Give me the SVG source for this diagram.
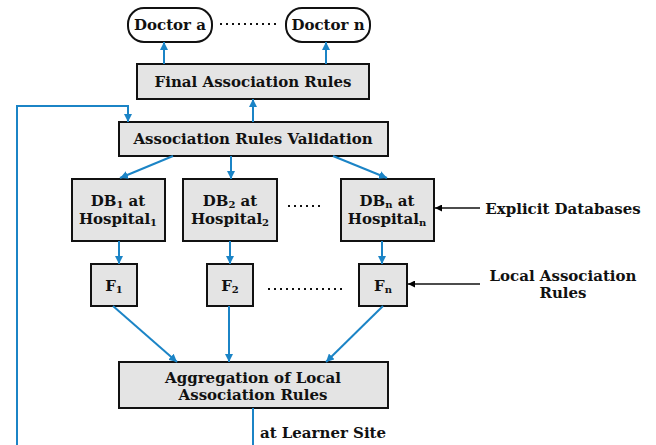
<svg xmlns="http://www.w3.org/2000/svg" width="656" height="445" viewBox="0 0 656 445">
<defs>
<marker id="ab" viewBox="0 0 10 10" refX="10" refY="5" markerWidth="8" markerHeight="8" markerUnits="userSpaceOnUse" orient="auto">
<path d="M0,0 L10,5 L0,10 z" fill="#1b84c6"/>
</marker>
<marker id="ak" viewBox="0 0 10 10" refX="10" refY="5" markerWidth="8" markerHeight="7" markerUnits="userSpaceOnUse" orient="auto">
<path d="M0,0 L10,5 L0,10 z" fill="#000"/>
</marker>
</defs>
<style>
.box{fill:#e4e4e4;stroke:#111;stroke-width:2}
.pill{fill:#fff;stroke:#111;stroke-width:2}
.t{font-family:"DejaVu Serif","Liberation Serif",serif;font-weight:bold;font-size:15px;fill:#111;text-anchor:middle}
.s{font-size:10px}
.c{fill:none;stroke:#1b84c6;stroke-width:2;marker-end:url(#ab)}
.k{fill:none;stroke:#111;stroke-width:1.5;marker-end:url(#ak)}
.dots{fill:none;stroke:#111;stroke-width:2;stroke-dasharray:2 4}
</style>
<rect width="656" height="445" fill="#fff"/>
<g id="doctor-a"><rect class="pill" x="128" y="8" width="84" height="34" rx="16"/><text class="t" x="170" y="30">Doctor a</text></g>
<g id="doctor-n"><rect class="pill" x="286" y="8" width="84" height="34" rx="16"/><text class="t" x="328" y="30">Doctor n</text></g>
<g id="final"><rect class="box" x="137" y="64" width="232" height="35"/><text class="t" x="253" y="87">Final Association Rules</text></g>
<g id="validation"><rect class="box" x="119" y="122" width="269" height="34"/><text class="t" x="253" y="144">Association Rules Validation</text></g>
<g id="db1"><rect class="box" x="72" y="179" width="93" height="62"/><text class="t" x="118" y="206">DB<tspan class="s" dy="2">1</tspan><tspan dy="-2"> at</tspan></text><text class="t" x="118" y="224">Hospital<tspan class="s" dy="2">1</tspan></text></g>
<g id="db2"><rect class="box" x="183" y="179" width="94" height="62"/><text class="t" x="230" y="206">DB<tspan class="s" dy="2">2</tspan><tspan dy="-2"> at</tspan></text><text class="t" x="230" y="224">Hospital<tspan class="s" dy="2">2</tspan></text></g>
<g id="dbn"><rect class="box" x="341" y="179" width="93" height="62"/><text class="t" x="387" y="206">DB<tspan class="s" dy="2">n</tspan><tspan dy="-2"> at</tspan></text><text class="t" x="387" y="224">Hospital<tspan class="s" dy="2">n</tspan></text></g>
<g id="f1"><rect class="box" x="91" y="264" width="46" height="42"/><text class="t" x="114" y="291">F<tspan class="s" dy="2">1</tspan></text></g>
<g id="f2"><rect class="box" x="207" y="264" width="46" height="42"/><text class="t" x="230" y="291">F<tspan class="s" dy="2">2</tspan></text></g>
<g id="fn"><rect class="box" x="359" y="264" width="48" height="42"/><text class="t" x="383" y="291">F<tspan class="s" dy="2">n</tspan></text></g>
<g id="aggregation"><rect class="box" x="119" y="362" width="269" height="46"/><text class="t" x="253" y="383">Aggregation of Local</text><text class="t" x="253" y="400">Association Rules</text></g>
<g id="labels">
<text class="t" x="563" y="214">Explicit Databases</text>
<text class="t" x="563" y="281">Local Association</text>
<text class="t" x="563" y="298">Rules</text>
<text class="t" x="323" y="438">at Learner Site</text>
</g>
<g id="connectors">
<path class="dots" d="M220,24 H280"/>
<path class="dots" d="M288,206 H322"/>
<path class="dots" d="M268,289 H342"/>
<path class="c" d="M164,64 V42"/>
<path class="c" d="M326,64 V42"/>
<path class="c" d="M253,122 V99"/>
<path class="c" d="M17,445 V106 H128 V122"/>
<path class="c" d="M173,156 L120,178"/>
<path class="c" d="M231,156 V179"/>
<path class="c" d="M333,156 L387,178"/>
<path class="c" d="M119,241 V264"/>
<path class="c" d="M230,241 V264"/>
<path class="c" d="M382,241 V264"/>
<path class="c" d="M113,306 L177,362"/>
<path class="c" d="M229,306 V362"/>
<path class="c" d="M383,306 L326,362"/>
<path d="M253,408 V445" fill="none" stroke="#1b84c6" stroke-width="2"/>
<path class="k" d="M480,208 H435"/>
<path class="k" d="M480,284 H408"/>
</g>
</svg>
